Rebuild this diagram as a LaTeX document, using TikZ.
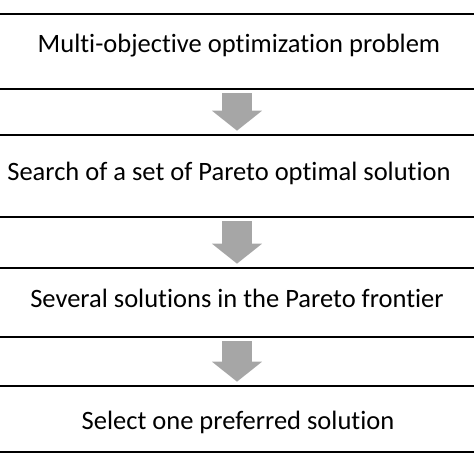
\documentclass[tikz,border=0pt]{standalone}
\usepackage{fontspec}
\setmainfont[Ligatures=NoCommon]{Carlito}
\usetikzlibrary{arrows.meta,positioning}
\definecolor{arrowgray}{RGB}{166,166,166}
\tikzset{
  stepbox/.style={draw,line width=2.6pt,minimum width=520pt,inner sep=0pt},
  steptext/.style={inner sep=0pt,font=\fontsize{26.5}{30}\selectfont},
  flowarrow/.style={arrowgray,line width=30pt,
    -{Triangle[width=49pt,length=20pt]},shorten <=3pt,shorten >=3pt}
}
\begin{document}
\begin{tikzpicture}[x=1pt,y=-1pt]
    \useasboundingbox (0,0) rectangle (474,474);
    % Steps
    \node[stepbox,minimum height=75pt] (problem) at (237,51.5) {};
    \node[steptext] (problemtxt) at (239,46) {Multi-objective optimization problem};
    \node[stepbox,minimum height=82pt] (search) at (237,176) {};
    \node[steptext] (searchtxt) at (229,173) {Search of a set of Pareto optimal solution};
    \node[stepbox,minimum height=69pt] (several) at (237,302.5) {};
    \node[steptext] (severaltxt) at (237,298) {Several solutions in the Pareto frontier};
    \node[stepbox,minimum height=66pt] (select) at (237,419) {};
    \node[steptext] (selecttxt) at (238,422) {Select one preferred solution};

    % Arrows
    \draw[flowarrow] (problem.south) -- (search.north);
    \draw[flowarrow] (search.south) -- (several.north);
    \draw[flowarrow] (several.south) -- (select.north);
\end{tikzpicture}
\end{document}
